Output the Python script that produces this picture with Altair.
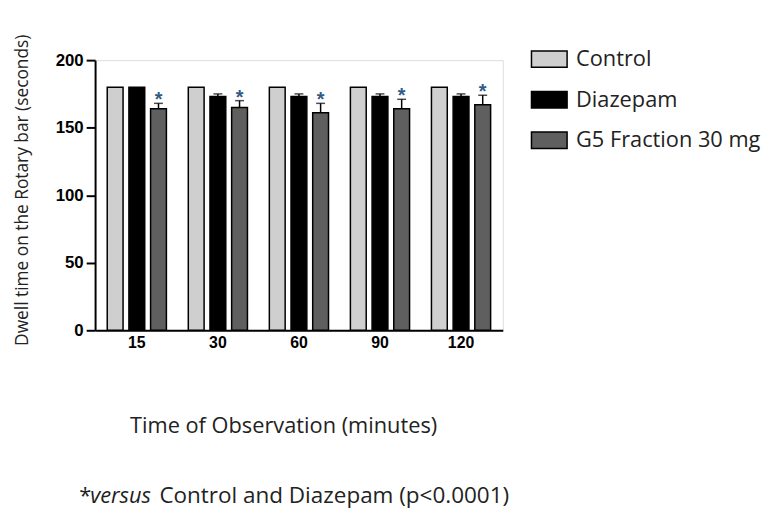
import altair as alt
import pandas as pd

times = ["15", "30", "60", "90", "120"]
series = ["Control", "Diazepam", "G5 Fraction 30 mg"]
control = [180, 180, 180, 180, 180]
control_err = [0, 0, 0, 0, 0]
diazepam = [180, 173, 173, 173, 173]
diazepam_err = [0, 2, 2, 2, 2]
g5 = [164, 165, 161, 164, 167]
g5_err = [4, 5, 7, 7, 7]
colors = ["#cfcfcf", "#000000", "#5f5f5f"]
y_ticks = [0, 50, 100, 150, 200]
footnote_parts = ["*", "versus", "Control and Diazepam (p<0.0001)"]

rows = []
for s, vals, errs in zip(series, [control, diazepam, g5], [control_err, diazepam_err, g5_err]):
    for t, v, e in zip(times, vals, errs):
        rows.append({"time": t, "series": s, "value": v, "err": e})
df = pd.DataFrame(rows)

x_enc = alt.X(
    "time:N", sort=times,
    scale=alt.Scale(paddingInner=0.27, paddingOuter=0.15),
    axis=alt.Axis(
        title="Time of Observation (minutes)", ticks=False, labelAngle=0,
        labelFont="Liberation Sans", labelFontWeight="bold", labelFontSize=16,
        labelColor="#000", labelPadding=4, domainColor="#000", domainWidth=2,
        titleFont="Open Sans", titleFontWeight="normal", titleFontSize=22,
        titleColor="#222", titlePadding=66, titleX=190,
    ),
)
xo_enc = alt.XOffset("series:N", sort=series, scale=alt.Scale(paddingInner=0.27))
y_scale = alt.Scale(domain=[0, 200], nice=False)

base = alt.Chart(df).encode(x=x_enc, xOffset=xo_enc)

bars = base.mark_bar(stroke="#000", strokeWidth=1.5).encode(
    y=alt.Y(
        "value:Q", scale=y_scale,
        axis=alt.Axis(
            title="Dwell time on the Rotary bar (seconds)", values=y_ticks, grid=False,
            tickSize=9, tickWidth=2, tickColor="#000", domainColor="#000", domainWidth=2,
            labelFont="Liberation Sans", labelFontWeight="bold", labelFontSize=17,
            labelColor="#000", labelPadding=3,
            titleFont="Open Sans", titleFontWeight="normal", titleFontSize=17.5,
            titleColor="#222", titlePadding=24, titleY=131,
        ),
    ),
    color=alt.Color(
        "series:N", sort=series,
        scale=alt.Scale(domain=series, range=colors),
        legend=alt.Legend(
            title=None, orient="none", legendX=440, legendY=-20, padding=0,
            symbolType="M-1,-0.46H1V0.46H-1Z", symbolSize=1296,
            symbolStrokeColor="#000", symbolStrokeWidth=1.5, symbolOpacity=1,
            labelFont="Open Sans", labelFontSize=22, labelColor="#222",
            labelOffset=8, rowPadding=10, labelLimit=300,
        ),
    ),
)

errdf = base.transform_filter("datum.err > 0").transform_calculate(top="datum.value + datum.err")
err_rule = errdf.mark_rule(color="#000", strokeWidth=1.5).encode(
    y=alt.Y("value:Q", scale=y_scale), y2="top:Q"
)
err_cap = errdf.mark_tick(color="#000", size=9, thickness=1.5).encode(
    y=alt.Y("top:Q", scale=y_scale)
)
stars = errdf.transform_filter(alt.datum.series == series[2]).mark_text(
    text="*", fontSize=20, fontWeight="bold", color="#2e5a88",
    baseline="middle", dy=-3, font="Liberation Sans",
).encode(y=alt.Y("top:Q", scale=y_scale))

fn_df = pd.DataFrame({"t": footnote_parts})
fn_star = alt.Chart(fn_df).transform_filter(alt.datum.t == footnote_parts[0]).mark_text(
    font="Open Sans", fontSize=22, color="#222", align="left", baseline="middle"
).encode(text="t:N", x=alt.value(-16), y=alt.value(441))
fn_versus = alt.Chart(fn_df).transform_filter(alt.datum.t == footnote_parts[1]).mark_text(
    font="Open Sans", fontSize=22, fontStyle="italic", color="#222", align="left", baseline="middle"
).encode(text="t:N", x=alt.value(-5), y=alt.value(441))
fn_rest = alt.Chart(fn_df).transform_filter(alt.datum.t == footnote_parts[2]).mark_text(
    font="Open Sans", fontSize=22.7, color="#222", align="left", baseline="middle"
).encode(text="t:N", x=alt.value(65), y=alt.value(441))

chart = alt.layer(bars, err_rule, err_cap, stars, fn_star, fn_versus, fn_rest).properties(
    width=412, height=273,
    padding={"left": 5, "top": 23, "right": 5, "bottom": 5},
).configure_view(strokeWidth=0).configure(background="white")

chart.save("out.html", embed_options={"renderer": "svg", "actions": False})
